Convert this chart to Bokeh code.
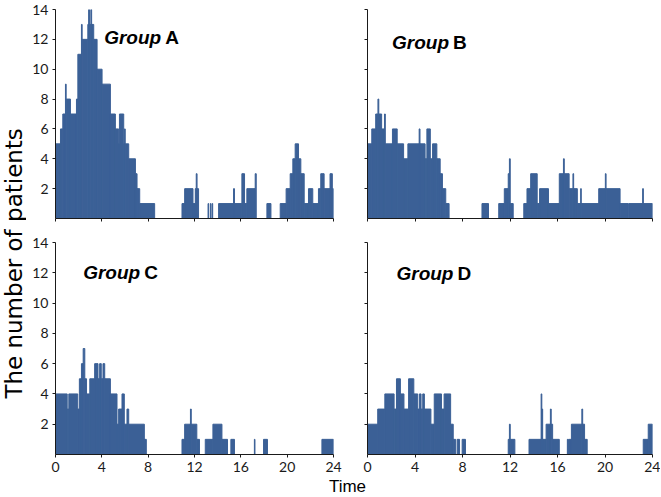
import math
from bokeh.plotting import figure
from bokeh.models import Range1d, FixedTicker, Label
from bokeh.layouts import row, column
from bokeh.embed import file_html
from bokeh.resources import INLINE

# ---------------- data ----------------
time_ticks = [0, 4, 8, 12, 16, 20, 24]
count_ticks = [2, 4, 6, 8, 10, 12, 14]
group_letters = ["A", "B", "C", "D"]
y_title = "The number of patients"
x_title = "Time"

a_start = [0.00, 0.43, 0.63, 0.86, 0.92, 1.29, 1.81, 1.93, 2.24, 2.30, 2.79, 2.86, 2.93, 3.05, 3.12,
           3.30, 3.59, 4.02, 4.74, 5.17, 5.45, 5.52, 5.89, 5.95, 6.02, 6.32, 6.90, 7.04, 7.27,
           10.92, 11.15, 11.87, 12.07, 12.15, 12.22, 13.17, 13.37, 13.52, 14.08, 15.37, 15.45, 16.09,
           16.32, 16.52, 17.24, 18.25, 19.40, 19.91, 20.26, 20.49, 20.69, 20.98, 21.18, 21.47, 21.84,
           22.21, 22.70, 22.90, 23.19, 23.70, 23.90]
a_end = [0.43, 0.63, 0.86, 0.92, 1.29, 1.81, 1.93, 2.24, 2.30, 2.79, 2.86, 2.93, 3.05, 3.12, 3.30,
         3.59, 4.02, 4.74, 5.17, 5.45, 5.52, 5.89, 5.95, 6.02, 6.32, 6.90, 7.04, 7.27, 8.56,
         11.15, 11.87, 12.07, 12.15, 12.22, 12.35, 13.22, 13.42, 13.57, 15.37, 15.45, 16.09, 16.32,
         16.52, 17.24, 17.33, 18.60, 19.91, 20.26, 20.49, 20.69, 20.98, 21.18, 21.47, 21.84, 22.21,
         22.70, 22.90, 23.19, 23.70, 23.90, 24.00]
a_count = [5, 6, 7, 9, 8, 7, 8, 11, 13, 12, 13, 14, 13, 14, 13, 12, 10, 9, 7, 6, 5, 7, 5, 6, 5, 4, 3, 2, 1,
           1, 2, 1, 2, 3, 2, 1, 1, 1, 1, 2, 1, 3, 1, 2, 3, 1, 1, 2, 3, 4, 5, 4, 3, 1, 2, 1, 2, 3, 2, 3, 2]

b_start = [0.00, 0.36, 0.69, 0.88, 0.95, 1.19, 1.43, 1.50, 2.10, 2.50, 3.04, 3.40, 4.35, 4.42, 4.85,
           5.00, 5.29, 5.48, 5.84, 6.12, 6.31, 6.59,
           9.64, 11.05, 11.52, 11.85, 11.95, 12.02, 13.16, 13.43, 13.74, 14.29, 14.49, 15.24, 16.15,
           16.50, 16.57, 16.98, 17.30, 17.36, 17.67, 17.95, 18.00, 19.47, 20.03, 20.09, 21.27, 22.02,
           23.17, 23.23]
b_end = [0.36, 0.69, 0.88, 0.95, 1.19, 1.43, 1.50, 2.10, 2.50, 3.04, 3.40, 4.35, 4.42, 4.85, 5.00,
         5.29, 5.48, 5.84, 6.12, 6.31, 6.59, 6.87,
         10.19, 11.52, 11.85, 11.95, 12.02, 12.27, 13.43, 13.74, 14.29, 14.49, 15.24, 16.15, 16.50,
         16.57, 16.98, 17.30, 17.36, 17.67, 17.95, 18.00, 19.47, 20.03, 20.09, 21.27, 21.97, 23.17,
         23.23, 24.00]
b_count = [5, 6, 7, 8, 7, 6, 7, 5, 6, 5, 4, 5, 6, 5, 4, 6, 4, 5, 4, 3, 2, 1,
           1, 1, 2, 3, 4, 1, 1, 2, 3, 1, 2, 1, 3, 4, 3, 2, 3, 2, 1, 2, 1, 2, 3, 2, 1, 1, 2, 1]

c_start = [0.00, 1.01, 1.15, 1.92, 2.06, 2.24, 2.39, 2.53, 2.68, 2.96, 3.38, 3.67, 3.81, 3.95, 4.10,
           4.25, 4.74, 5.31, 5.45, 5.74, 5.94, 6.17, 6.32, 7.67,
           10.92, 11.15, 11.65, 11.72, 12.20, 12.93, 13.59, 14.37, 15.14, 17.17, 17.96, 23.00]
c_end = [1.01, 1.15, 1.92, 2.06, 2.24, 2.39, 2.53, 2.68, 2.96, 3.38, 3.67, 3.81, 3.95, 4.10, 4.25,
         4.74, 5.31, 5.45, 5.74, 5.94, 6.17, 6.32, 7.67, 7.84,
         11.15, 11.65, 11.72, 12.20, 12.43, 13.59, 14.37, 14.85, 15.45, 17.22, 18.30, 24.00]
c_count = [4, 3, 4, 3, 5, 6, 7, 5, 4, 5, 6, 5, 6, 5, 6, 5, 4, 2, 3, 4, 2, 3, 2, 1,
           1, 2, 3, 2, 1, 1, 2, 1, 1, 1, 1, 1]

d_start = [0.00, 0.86, 1.46, 2.24, 2.44, 2.77, 3.07, 3.46, 3.90, 4.23, 4.37, 4.51, 4.65, 4.79, 5.34,
           5.62, 6.23, 6.45, 7.00, 7.22, 7.55, 7.97,
           11.85, 11.95, 12.02, 13.60, 14.62, 14.68, 14.75, 15.04, 15.40, 15.47, 15.59, 16.83, 16.93,
           17.17, 18.05, 18.12, 18.28, 23.22, 23.64]
d_end = [0.86, 1.46, 2.24, 2.44, 2.77, 3.07, 3.46, 3.90, 4.23, 4.37, 4.51, 4.65, 4.79, 5.34, 5.62,
         6.23, 6.45, 7.00, 7.22, 7.42, 7.75, 8.25,
         11.95, 12.02, 12.41, 14.62, 14.68, 14.75, 15.04, 15.40, 15.47, 15.59, 16.15, 16.88, 17.17,
         18.05, 18.12, 18.28, 18.50, 23.64, 24.00]
d_count = [2, 3, 4, 3, 5, 4, 3, 5, 4, 3, 4, 3, 4, 3, 2, 4, 3, 4, 2, 1, 1, 1,
           1, 2, 1, 1, 4, 3, 1, 2, 3, 2, 1, 1, 1, 2, 3, 2, 1, 1, 2]

# ---------------- style ----------------
BAR = "#3b6096"
INK = "#1a1a1a"


def style_axes(p, show_x, show_y):
    for ax, ticks, show in ((p.xaxis[0], time_ticks, show_x), (p.yaxis[0], count_ticks, show_y)):
        ax.ticker = FixedTicker(ticks=ticks)
        ax.axis_line_color = INK
        ax.axis_line_width = 1
        ax.major_tick_line_color = INK
        ax.major_tick_in = 0
        ax.major_tick_out = 3
        ax.minor_tick_in = 0
        ax.minor_tick_out = 0
        ax.major_label_standoff = 4
        ax.major_label_text_font = "Lato"
        ax.major_label_text_color = INK
        ax.major_label_text_font_size = "14px"
        if not show:
            ax.major_label_overrides = {t: "" for t in ticks}


def panel(start, end, count, letter, tx, ty, w, h, bl, br, bt, bb, show_x, show_y):
    p = figure(width=w, height=h, x_range=Range1d(0, 24), y_range=Range1d(0, 14),
               output_backend="svg", toolbar_location=None,
               min_border_left=bl, min_border_right=br, min_border_top=bt, min_border_bottom=bb)
    p.quad(left=start, right=end, bottom=0, top=count,
           fill_color=BAR, line_color=BAR, line_width=1)
    p.grid.visible = False
    p.outline_line_color = None
    p.background_fill_color = "white"
    p.border_fill_color = "white"
    style_axes(p, show_x, show_y)
    p.add_layout(Label(x=tx, y=ty, text="Group", text_font="Liberation Sans",
                       text_font_style="bold italic", text_font_size="19px",
                       text_baseline="middle", text_align="left", text_color="black"))
    p.add_layout(Label(x=tx, y=ty, x_offset=61, text=letter, text_font="Liberation Sans",
                       text_font_style="bold", text_font_size="19px",
                       text_baseline="middle", text_align="left", text_color="black"))
    return p


pA = panel(a_start, a_end, a_count, group_letters[0], 4.2, 12.1, 317, 228, 29, 10, 9, 10, False, True)
pB = panel(b_start, b_end, b_count, group_letters[1], 2.07, 11.8, 317, 228, 24, 8, 9, 10, False, False)
pC = panel(c_start, c_end, c_count, group_letters[2], 2.39, 12.05, 317, 248, 29, 10, 14, 22, True, True)
pD = panel(d_start, d_end, d_count, group_letters[3], 2.44, 11.98, 317, 248, 24, 8, 14, 22, True, False)

# y title strip
ylab = figure(width=26, height=496, x_range=Range1d(0, 1), y_range=Range1d(0, 1),
              output_backend="svg", toolbar_location=None, min_border=0)
ylab.axis.visible = False
ylab.grid.visible = False
ylab.outline_line_color = None
ylab.add_layout(Label(x=0.5, y=0.47, text=y_title, angle=math.pi / 2, text_align="center",
                      text_baseline="middle", text_font="DejaVu Sans", text_font_size="23px",
                      text_color="black"))

# x title strip
xlab = figure(width=634, height=20, x_range=Range1d(0, 634), y_range=Range1d(0, 20),
              output_backend="svg", toolbar_location=None, min_border=0)
xlab.axis.visible = False
xlab.grid.visible = False
xlab.outline_line_color = None
xlab.add_layout(Label(x=321, y=10, text=x_title, text_align="center", text_baseline="middle",
                      text_font="Liberation Sans", text_font_size="17px", text_color="black"))

layout = row(ylab, column(row(pA, pB), row(pC, pD), xlab))

open("out.html", "w").write(file_html(layout, INLINE))
